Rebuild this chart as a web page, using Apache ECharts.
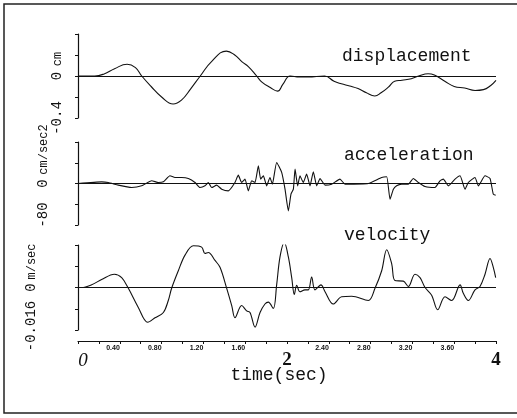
<!DOCTYPE html>
<html>
<head>
<meta charset="utf-8">
<script src="https://cdn.jsdelivr.net/npm/echarts@6/dist/echarts.min.js"></script>
<style>html,body{margin:0;padding:0;background:#fff}#c{width:517px;height:418px}</style>
</head>
<body>
<div id="c"></div>
<script>
// ---- data ----
const dispT = [0,0.16,0.25,0.35,0.47,0.55,0.61,0.7,0.8,0.91,0.99,1.08,1.17,1.28,1.42,1.5,1.57,1.63,1.71,1.76,1.84,1.91,1.96,2.03,2.12,2.2,2.36,2.45,2.52,2.6,2.68,2.76,2.84,2.9,2.97,3.03,3.1,3.19,3.26,3.35,3.41,3.51,3.6,3.7,3.8,3.88,3.95,4.0];
const dispV = [0,0,0.02,0.07,0.112,0.08,0,-0.1,-0.2,-0.266,-0.23,-0.12,0,0.14,0.237,0.2,0.134,0.09,0,-0.058,-0.11,-0.144,-0.08,0,-0.01,-0.01,0,-0.05,-0.074,-0.095,-0.12,-0.16,-0.19,-0.16,-0.106,-0.05,-0.04,-0.026,0,0.022,0.01,-0.05,-0.1,-0.115,-0.138,-0.13,-0.09,-0.042];

const accT = [0,0.226,0.29,0.386,0.514,0.609,0.705,0.769,0.817,0.88,0.928,0.992,1.056,1.12,1.167,1.215,1.247,1.279,1.327,1.375,1.439,1.502,1.534,1.566,1.598,1.63,1.662,1.694,1.726,1.748,1.774,1.805,1.837,1.86,1.901,1.949,1.981,2.013,2.038,2.061,2.077,2.102,2.124,2.156,2.188,2.22,2.252,2.284,2.316,2.364,2.427,2.507,2.555,2.778,2.906,2.954,2.986,3.018,3.049,3.097,3.161,3.209,3.257,3.321,3.416,3.464,3.496,3.544,3.608,3.656,3.703,3.735,3.799,3.831,3.895,3.943,3.974,3.997];
const accV = [0,3.2,1.9,-3.2,-7.7,-4.5,5.2,1.9,3.2,14.8,11.6,11.6,9.7,1.9,-7.7,-4.5,1.9,-7.7,-3.2,-11,-14.2,1.9,16.1,1.9,8.4,-14.2,5.2,1.9,34.2,8.4,14.8,-4.5,11.6,-1.3,40.6,21.3,-11,-52.9,-20.6,-11,27.7,-4.5,14.8,1.9,18.1,-4.5,22.6,-4.5,9.7,-3.2,-1.3,8.4,-1.3,0,11.6,12.9,-30.3,-11,-4.5,-1.3,-1.3,9.7,1.9,-5.8,-7.7,5.2,8.4,-4.5,8.4,14.8,-11,1.9,11.6,-4.5,14.8,9.7,-20.6,-22.6];

const velT = [0,0.035,0.131,0.226,0.348,0.418,0.482,0.577,0.667,0.737,0.817,0.864,0.896,0.96,1.024,1.104,1.183,1.215,1.247,1.311,1.359,1.423,1.471,1.502,1.566,1.614,1.646,1.694,1.742,1.789,1.821,1.869,1.901,1.933,1.974,2.013,2.045,2.07,2.093,2.124,2.172,2.204,2.236,2.268,2.325,2.364,2.443,2.523,2.619,2.778,2.842,2.906,2.954,3.002,3.033,3.113,3.161,3.225,3.273,3.321,3.384,3.442,3.512,3.576,3.656,3.687,3.735,3.799,3.847,3.895,3.943,3.974,3.997];
const velV = [0,0,0.00105,0.003,0.005,0.0037,-0.0003,-0.0075,-0.0131,-0.0114,-0.0094,-0.0049,-0.0003,0.0063,0.0122,0.0157,0.0152,0.0128,0.0132,0.0102,0.0076,-0.0003,-0.0068,-0.0114,-0.0068,-0.0088,-0.0094,-0.0149,-0.0094,-0.0062,-0.0055,-0.0079,0.001,0.0115,0.017,0.0115,0.0037,-0.0026,0.0008,-0.0016,-0.0009,-0.0009,0.0039,-0.0009,0.001,-0.0016,-0.0062,-0.0035,-0.0033,-0.0049,-0.0003,0.0063,0.0142,0.0089,0.0026,0.0024,0.0004,0.005,0.0037,0,-0.0029,-0.0084,-0.0035,-0.0049,0.001,-0.0022,-0.0049,-0.0009,0.0004,0.005,0.0109,0.0076,0.0037];

const panelTitles = ['displacement', 'acceleration', 'velocity'];
const unitNames = ['cm', 'cm/sec2', 'm/sec'];
const yMinLabels = ['-0.4', '-80', '-0.016'];
const xSmallLabels = ['0.40', '0.80', '1.20', '1.60', '2.40', '2.80', '3.20', '3.60'];
const xBigLabels = ['0', '2', '4'];
const xName = 'time(sec)';

// ---- chart ----
const INK = '#111';
const MONO = "'Liberation Mono','DejaVu Sans Mono',monospace";
const pairs = (t, v) => t.map((x, i) => [x, v[i]]);

const grids = [
  {left: 78, top: 34, width: 418, height: 84},
  {left: 78, top: 142, width: 418, height: 83},
  {left: 78, top: 245, width: 418, height: 85}
].map(g => Object.assign({outerBoundsMode: 'none', containLabel: false}, g));

const yRanges = [
  {min: -0.4, max: 0.4, interval: 0.2, margin: 14, pad: 34, minPad: 0},
  {min: -80, max: 80, interval: 40, margin: 28, pad: 68, minPad: 20},
  {min: -0.016, max: 0.016, interval: 0.008, margin: 40, pad: 52, minPad: 8}
];

const yAxes = yRanges.map((r, i) => ({
  type: 'value', gridIndex: i, min: r.min, max: r.max, interval: r.interval,
  splitLine: {show: false},
  axisLine: {show: true, onZero: false, lineStyle: {color: INK, width: 1.2}},
  axisTick: {show: true, length: 3, lineStyle: {color: INK}},
  axisLabel: {
    rotate: 90, margin: r.margin, color: INK, fontFamily: MONO, fontSize: 14,
    showMinLabel: true, showMaxLabel: true,
    formatter: v => Math.abs(v) < 1e-12 ? '0' : (Math.abs(v - r.min) < 1e-9 ? '{m|' + yMinLabels[i] + '}' : ''),
    rich: {m: {fontFamily: MONO, fontSize: 14, color: INK, padding: [0, 0, 0, r.minPad]}}
  },
  name: unitNames[i], nameLocation: 'middle', nameRotate: 90, nameGap: r.margin, nameMoveOverlap: false,
  nameTextStyle: {color: INK, fontFamily: MONO, fontSize: 12, padding: [0, 0, 0, r.pad]}
}));

const xAxes = [
  {type: 'value', gridIndex: 0, min: 0, max: 4, show: false},
  {type: 'value', gridIndex: 1, min: 0, max: 4, show: false},
  {
    type: 'value', gridIndex: 2, min: 0, max: 4, interval: 0.2, position: 'bottom', offset: 11,
    splitLine: {show: false},
    axisLine: {show: true, onZero: false, lineStyle: {color: INK, width: 1.2}},
    axisTick: {show: true, length: 3, lineStyle: {color: INK}},
    axisLabel: {
      margin: 4, align: 'right', color: INK, fontSize: 7, fontWeight: 'bold',
      fontFamily: "'Liberation Sans',sans-serif", showMinLabel: true, showMaxLabel: true,
      formatter: v => { const s = v.toFixed(2); return xSmallLabels.includes(s) ? s : ''; }
    }
  },
  {
    type: 'value', gridIndex: 2, min: 0, max: 4, interval: 2, position: 'bottom', offset: 11,
    splitLine: {show: false}, axisLine: {show: false}, axisTick: {show: false},
    axisLabel: {
      margin: 10, color: INK, showMinLabel: true, showMaxLabel: true,
      formatter: v => { const s = String(Math.round(v)); if (!xBigLabels.includes(s)) return ''; return s === '0' ? '{i|' + s + '}' : '{b|' + s + '}'; },
      rich: {
        i: {fontFamily: "'Liberation Serif',serif", fontStyle: 'italic', fontSize: 19, color: INK, padding: [0, 0, 0, 10]},
        b: {fontFamily: "'Liberation Serif',serif", fontWeight: 'bold', fontSize: 19, color: INK}
      }
    },
    name: xName, nameLocation: 'middle', nameGap: 25, nameMoveOverlap: false,
    nameTextStyle: {color: INK, fontFamily: MONO, fontSize: 18, padding: [0, 16, 0, 0]}
  }
];

const zeroLine = {
  silent: true, symbol: ['none', 'none'], label: {show: false}, animation: false,
  lineStyle: {color: INK, width: 1, type: 'solid'}, data: [{yAxis: 0}]
};

const seriesData = [pairs(dispT, dispV), pairs(accT, accV), pairs(velT, velV)];
const smoothness = [0.45, 0.15, 0.35];
const series = seriesData.map((d, i) => ({
  type: 'line', xAxisIndex: i, yAxisIndex: i, data: d, smooth: smoothness[i],
  showSymbol: false, symbol: 'none', animation: false,
  lineStyle: {color: INK, width: 1.1}, markLine: zeroLine
}));

const titlePos = [{left: 342, top: 47}, {left: 344, top: 146}, {left: 344, top: 226}];
const titles = panelTitles.map((t, i) => ({
  text: t, left: titlePos[i].left, top: titlePos[i].top, padding: 0,
  textStyle: {color: INK, fontFamily: MONO, fontSize: 18, fontWeight: 'normal'}
}));

const chart = echarts.init(document.getElementById('c'), null, {renderer: 'canvas'});
chart.setOption({
  animation: false,
  backgroundColor: '#fff',
  title: titles,
  grid: grids,
  xAxis: xAxes,
  yAxis: yAxes,
  series: series,
  graphic: [{
    type: 'rect', silent: true, z: -1,
    shape: {x: 4, y: 4, width: 530, height: 409},
    style: {fill: 'none', stroke: '#222', lineWidth: 1.5}
  }]
});
</script>
</body>
</html>
